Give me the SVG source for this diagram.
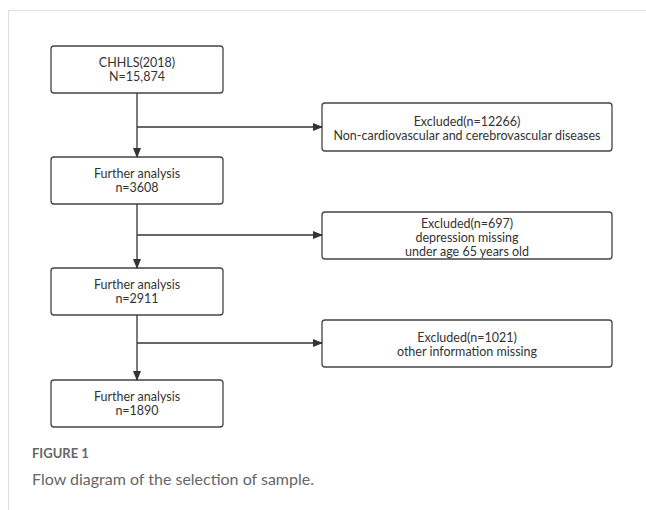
<svg xmlns="http://www.w3.org/2000/svg" width="646" height="510" viewBox="0 0 646 510">
<defs>
<marker id="arr" markerWidth="10" markerHeight="8" refX="9" refY="4" orient="auto" markerUnits="userSpaceOnUse">
<path d="M0,0 L10,4 L0,8 Z" fill="#333"/>
</marker>
<style>
.box{fill:#fff;stroke:#444;stroke-width:1.3}
.t{font-family:Lato,"Noto Sans",sans-serif;font-size:12.5px;fill:#333;text-anchor:middle}
.c{stroke:#333;stroke-width:1.3;fill:none}
</style>
</defs>
<rect width="646" height="510" fill="#fff"/>
<path d="M8,10.5 H646 M8.5,10 V510" stroke="#ddd" stroke-width="1" fill="none"/>
<g id="n1"><rect class="box" x="51" y="46" width="172" height="47" rx="3"/>
<text class="t" x="137" y="67">CHHLS(2018)</text><text class="t" x="137" y="81">N=15,874</text></g>
<g id="e1"><rect class="box" x="322" y="103" width="290" height="48" rx="3"/>
<text class="t" x="467" y="126">Excluded(n=12266)</text><text class="t" x="467" y="140">Non-cardiovascular and cerebrovascular diseases</text></g>
<g id="n2"><rect class="box" x="51" y="157" width="172" height="47" rx="3"/>
<text class="t" x="137" y="178">Further analysis</text><text class="t" x="137" y="192">n=3608</text></g>
<g id="e2"><rect class="box" x="322" y="212" width="290" height="47" rx="3"/>
<text class="t" x="467" y="228">Excluded(n=697)</text><text class="t" x="467" y="242">depression missing</text><text class="t" x="467" y="256">under age 65 years old</text></g>
<g id="n3"><rect class="box" x="51" y="268" width="172" height="47" rx="3"/>
<text class="t" x="137" y="289">Further analysis</text><text class="t" x="137" y="303">n=2911</text></g>
<g id="e3"><rect class="box" x="322" y="320" width="290" height="47" rx="3"/>
<text class="t" x="467" y="342">Excluded(n=1021)</text><text class="t" x="467" y="356">other information missing</text></g>
<g id="n4"><rect class="box" x="51" y="380" width="172" height="47" rx="3"/>
<text class="t" x="137" y="401">Further analysis</text><text class="t" x="137" y="415">n=1890</text></g>
<g id="connectors">
<line class="c" x1="137" y1="93" x2="137" y2="157" marker-end="url(#arr)"/>
<line class="c" x1="137" y1="127" x2="322" y2="127" marker-end="url(#arr)"/>
<line class="c" x1="137" y1="204" x2="137" y2="268" marker-end="url(#arr)"/>
<line class="c" x1="137" y1="235" x2="322" y2="235" marker-end="url(#arr)"/>
<line class="c" x1="137" y1="315" x2="137" y2="380" marker-end="url(#arr)"/>
<line class="c" x1="137" y1="343" x2="322" y2="343" marker-end="url(#arr)"/>
</g>
<text x="32" y="458" font-family="Lato,sans-serif" font-size="13" font-weight="bold" fill="#666">FIGURE 1</text>
<text x="32" y="485" font-family="Lato,sans-serif" font-size="16" fill="#666">Flow diagram of the selection of sample.</text>
</svg>
